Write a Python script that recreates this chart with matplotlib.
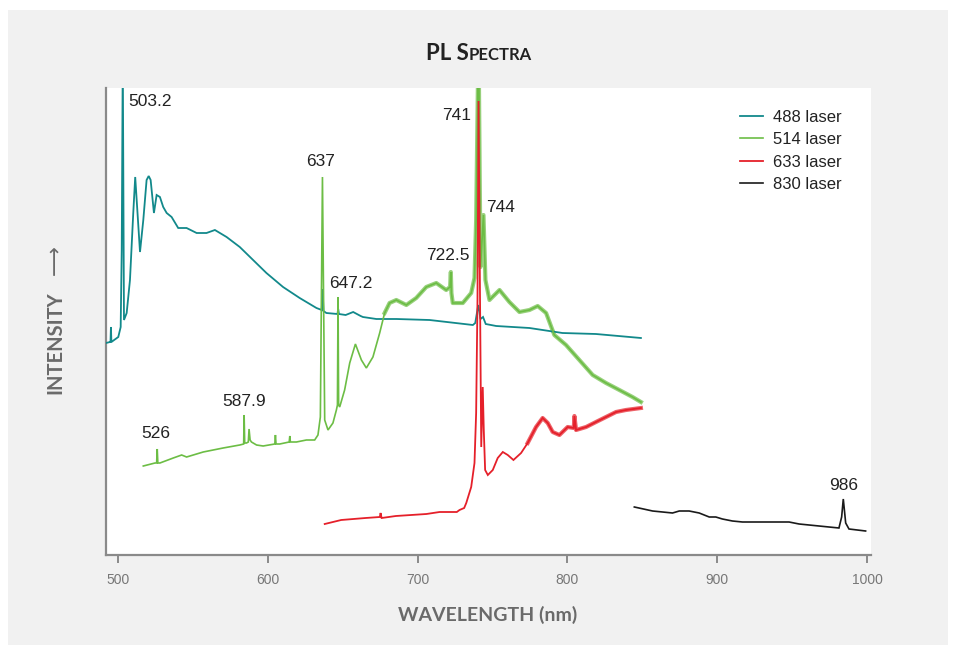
import matplotlib
matplotlib.use("Agg")
import matplotlib.pyplot as plt
from matplotlib.patches import Rectangle
import numpy as np

# ---------------- data (wavelength nm, relative intensity) ----------------
wl_488 = [492.0, 494.7, 495.0, 495.3, 495.6, 500.2, 501.8, 502.5, 503.2, 504.0, 505.8, 508.0,
          510.2, 511.5, 514.7, 516.9, 519.1, 520.5, 521.8, 524.0, 525.8, 528.0, 530.2, 532.5,
          535.8, 540.2, 545.8, 552.5, 559.1, 564.7, 572.5, 581.3, 590.2, 599.1, 610.2, 621.3,
          632.5, 636.0, 636.6, 637.2, 639.1, 646.5, 647.0, 647.5, 652.0, 657.0, 662.0, 663.5,
          672.5, 685.8, 708.0, 736.9, 738.5, 740.5, 742.0, 743.7, 745.5, 752.5, 774.7, 796.7,
          819.1, 849.1]
int_488 = [212, 213, 213, 228, 213, 218, 228, 305, 500, 235, 242, 275,
           342, 378, 303, 335, 375, 379, 375, 342, 360, 358, 348, 342,
           338, 327, 327, 322, 322, 325, 318, 308, 295, 282, 268, 257,
           247, 245, 266, 244, 242, 241, 246, 241, 240, 243, 239, 238,
           236, 236, 235, 230, 232, 250, 236, 238, 231, 229, 227, 222,
           221, 217]

wl_514 = [516.9, 524.7, 525.8, 526.2, 526.6, 528.0, 536.9, 542.5, 545.8, 556.9, 570.2, 581.3,
          583.9, 584.2, 584.6, 585.8, 587.0, 587.5, 588.2, 589.1, 592.5, 596.9, 604.7, 605.1,
          605.5, 608.0, 614.3, 614.7, 615.1, 619.1, 625.8, 631.3, 633.5, 635.1, 636.5, 638.0,
          640.2, 643.5, 645.8, 646.5, 646.9, 647.3, 648.0, 651.3, 654.7, 658.5, 662.5, 665.8,
          670.2, 674.7, 678.0, 681.3, 685.8, 692.5, 699.1, 705.8, 712.5, 719.1, 721.7, 722.2,
          722.6, 723.5, 730.2, 735.8, 738.0, 739.1, 740.7, 742.0, 744.0, 745.3, 748.0, 754.7,
          761.3, 768.0, 774.7, 780.2, 785.8, 791.3, 799.1, 808.0, 816.9, 825.8, 834.7, 843.5,
          849.1]
int_514 = [89, 92, 92, 106, 92, 92, 97, 100, 98, 103, 107, 110,
           111, 140, 112, 112, 113, 126, 115, 113, 110, 109, 111, 120,
           111, 111, 113, 119, 113, 113, 115, 115, 120, 138, 378, 135,
           125, 132, 145, 150, 258, 150, 148, 165, 192, 211, 195, 187,
           198, 222, 242, 252, 255, 250, 257, 268, 272, 265, 268, 283,
           262, 252, 252, 262, 277, 335, 520, 288, 340, 275, 255, 265,
           253, 243, 245, 249, 242, 220, 210, 195, 180, 172, 165, 158,
           153]

wl_633 = [638.0, 649.0, 665.3, 674.8, 675.3, 676.0, 685.5, 705.9, 714.7, 726.2, 728.0, 731.1,
          732.5, 735.8, 738.0, 739.1, 740.0, 740.7, 741.7, 742.5, 743.5, 744.2, 745.1, 746.9,
          750.2, 753.5, 756.9, 760.2, 764.0, 769.1, 773.5, 779.1, 783.5, 786.9, 790.2, 794.7,
          800.2, 804.3, 804.7, 805.8, 812.5, 819.1, 825.8, 832.5, 839.1, 849.1]
int_633 = [31, 35, 37, 38, 42, 37, 39, 41, 43, 43, 45, 47,
           52, 68, 92, 142, 255, 454, 255, 108, 168, 125, 85, 80,
           85, 97, 103, 100, 95, 102, 112, 128, 137, 132, 123, 120,
           128, 127, 139, 125, 128, 133, 138, 143, 145, 147]

wl_830 = [844.7, 856.9, 870.2, 874.7, 881.3, 888.0, 894.7, 899.1, 903.5, 910.2, 916.9, 948.0,
          954.7, 968.0, 981.3, 983.1, 984.2, 985.8, 988.0, 999.1]
int_830 = [48, 44, 42, 44, 44, 42, 38, 38, 36, 34, 33, 33,
           31, 29, 27, 38, 56, 32, 26, 24]

labels = ["488 laser", "514 laser", "633 laser", "830 laser"]

peak_text = ["503.2", "637", "647.2", "722.5", "741", "744", "587.9", "526", "986"]
peak_x = [521.3, 635.3, 655.3, 720.0, 726.0, 755.3, 584.0, 525.3, 984.7]
peak_y = [453, 393, 271, 299, 439, 348, 154, 121, 70]

# ---------------- styling ----------------
C_TEAL = "#12898b"
C_GREEN = "#6cbd45"
C_RED = "#e5202a"
C_BLACK = "#1a1a1a"

W, H = 956, 651
fig = plt.figure(figsize=(W / 100, H / 100), dpi=100, facecolor="white")

# grey panel
fig.patches.append(Rectangle((8 / W, 1 - 645 / H), 940 / W, 635 / H,
                             transform=fig.transFigure, facecolor="#f1f1f1",
                             edgecolor="none", zorder=-5))

ax = fig.add_axes([106 / W, 1 - 555 / H, 765 / W, 467 / H])
ax.set_zorder(2)
ax.set_facecolor("white")

series = [(wl_488, int_488, C_TEAL, 1.3, None),
          (wl_514, int_514, C_GREEN, 1.2, 678),
          (wl_633, int_633, C_RED, 1.3, 772),
          (wl_830, int_830, C_BLACK, 1.2, None)]
for (xs, ys, c, lw, noisy), lab in zip(series, labels):
    xs = np.asarray(xs)
    ys = np.asarray(ys)
    ax.plot(xs, ys, color=c, lw=lw, label=lab, zorder=3, solid_joinstyle="miter")
    if noisy is not None:
        m = xs >= noisy
        ax.plot(xs[m], ys[m], color=c, lw=3.0, alpha=0.7, zorder=2,
                solid_joinstyle="round")

ax.set_xlim(492, 1002.7)
ax.set_ylim(0, 467)

for s in ["top", "right"]:
    ax.spines[s].set_visible(False)
for s in ["left", "bottom"]:
    ax.spines[s].set_color("#8a8a8a")
    ax.spines[s].set_linewidth(1.6)

ax.set_xticks([500, 600, 700, 800, 900, 1000])
ax.set_yticks([])
ax.tick_params(axis="x", direction="out", length=6, width=1.4, color="#8a8a8a",
               labelcolor="#777777", labelsize=10, pad=7)
for t in ax.get_xticklabels():
    t.set_family("Liberation Sans")

for txt, x, y in zip(peak_text, peak_x, peak_y):
    ax.text(x, y, txt, ha="center", va="center", fontsize=12.5,
            family="Liberation Sans", color="#222222", zorder=5)

leg = ax.legend(loc="upper left", bbox_to_anchor=((740 - 106) / 765, (555 - 110) / 467),
                frameon=False, borderpad=0, borderaxespad=0, handlelength=1.35,
                handletextpad=0.65, labelspacing=0.44,
                prop={"family": "Liberation Sans", "size": 12})
for t in leg.get_texts():
    t.set_color("#222222")

# title with small caps
fig.canvas.draw()
r = fig.canvas.get_renderer()
t1 = fig.text(426 / W, 1 - 59.5 / H, "PL S", ha="left", va="baseline", fontsize=16,
              fontweight="bold", family="Lato", color="#222222")
bb = t1.get_window_extent(renderer=r)
fig.text(bb.x1 / W, 1 - 59.5 / H, "PECTRA", ha="left", va="baseline", fontsize=12,
         fontweight="bold", family="Lato", color="#222222")

fig.text(488 / W, 1 - 615 / H, "WAVELENGTH (nm)", ha="center", va="center",
         fontsize=14, fontweight="bold", family="Lato", color="#6a6a6a")
fig.text(55 / W, 1 - 343 / H, "INTENSITY", ha="center", va="center",
         rotation=90, fontsize=14.5, fontweight="bold", family="Lato",
         color="#6a6a6a")
fig.text(55 / W, 1 - 260 / H, "\u27f6", ha="center", va="center",
         rotation=90, fontsize=15, family="DejaVu Sans", color="#6a6a6a")

fig.savefig("out.png", dpi=100, facecolor="white")
